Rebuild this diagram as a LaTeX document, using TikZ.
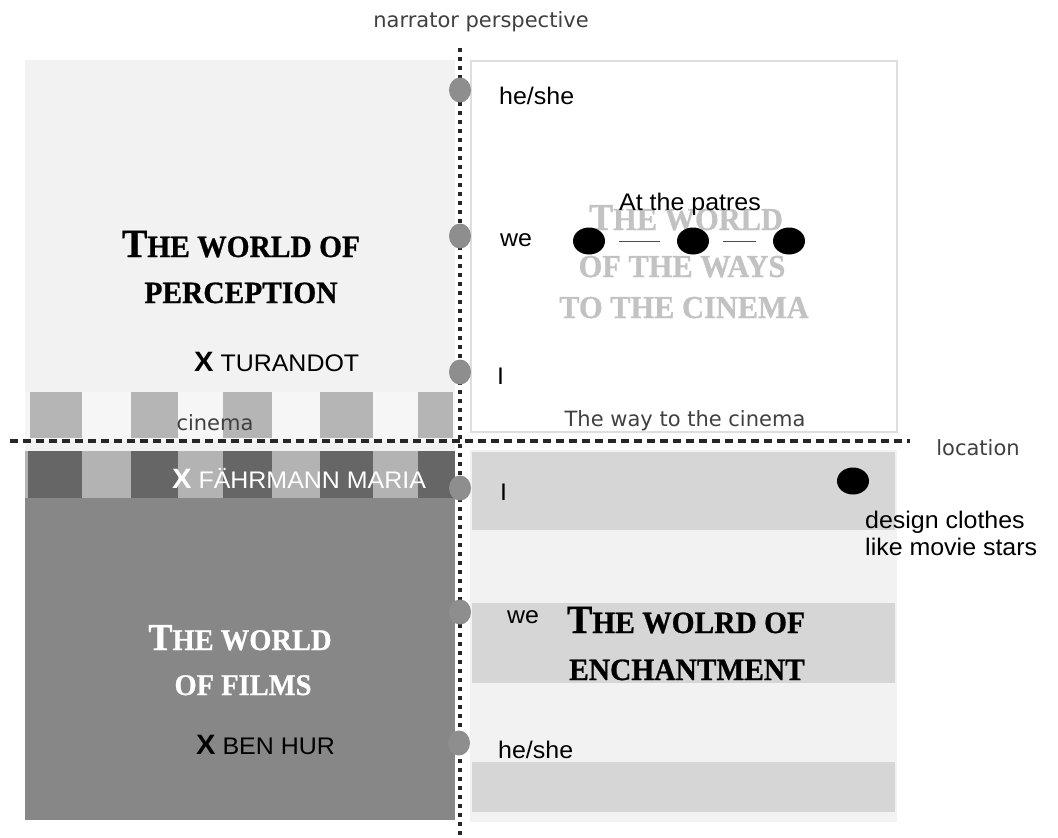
\documentclass[tikz,border=0pt]{standalone}
\usepackage{fontspec}
\setmainfont{Liberation Serif}
\newfontfamily\lab[FakeStretch=1.04]{Liberation Sans}
\newfontfamily\luc{DejaVu Sans}
\newfontfamily\ttl[FakeStretch=0.95,FakeBold=0.8]{Liberation Serif Bold}
\usetikzlibrary{shapes.geometric}
\definecolor{paneL}{HTML}{F2F2F2}
\definecolor{darkP}{HTML}{878787}
\definecolor{band}{HTML}{D6D6D6}
\definecolor{stripeA}{HTML}{B5B5B5}
\definecolor{stripeB}{HTML}{F6F6F6}
\definecolor{stripeC}{HTML}{666666}
\definecolor{stripeD}{HTML}{B3B3B3}
\definecolor{knob}{HTML}{8E8E8E}
\definecolor{ghost}{HTML}{C2C2C2}
\newcommand{\scapx}[4]{{\fontsize{#1}{#1}\selectfont #3}{\fontsize{#2}{#2}\selectfont #4}}
\newcommand{\bigX}{{\bfseries\fontsize{28}{28}\selectfont X}}
\tikzset{
  knobnode/.style={ellipse,fill=knob,minimum width=22pt,minimum height=25pt,inner sep=0pt},
  blackdot/.style={ellipse,fill=black,minimum width=32pt,minimum height=27pt,inner sep=0pt},
  lbl/.style={font=\lab\fontsize{24}{27}\selectfont,anchor=base west,inner sep=0pt},
  luclbl/.style={font=\luc\fontsize{21}{24}\selectfont,text=black!75,inner sep=0pt},
  ttlnode/.style={font=\ttl,anchor=base,inner sep=0pt},
  vaxis/.style={line width=3.4pt,dash pattern=on 4pt off 5pt,black!85},
  haxis/.style={line width=3.2pt,dash pattern=on 8pt off 5pt,black!85}
}
\begin{document}
\begin{tikzpicture}[x=1pt,y=-1pt]
\path[use as bounding box,fill=white] (0,0) rectangle (1058,838);
% panels
\fill[paneL] (25,60) rectangle (455,500);
\draw[black!13,line width=2pt,fill=white] (471,61) rectangle (897,432);
\fill[darkP] (25,498) rectangle (455,820);
\fill[paneL] (470,450) rectangle (897,822);
\fill[band] (472,452) rectangle (895,530);
\fill[band] (472,603) rectangle (895,683);
\fill[band] (472,762) rectangle (895,812);
% cinema stripes
\fill[stripeB] (25,392) rectangle (455,441);
\foreach \a/\b in {30/82,131/178,223/272,320/373,418/453}{
  \fill[stripeA] (\a,392) rectangle (\b,438);
}
\fill[stripeD] (25,451) rectangle (455,498);
\foreach \a/\b in {28/82,131/178,223/272,320/373,418/455}{
  \fill[stripeC] (\a,451) rectangle (\b,498);
}
% ghost title
\node[ttlnode,text=ghost] (g1) at (686,230) {\scapx{38}{32}{T}{HE WORLD}};
\node[ttlnode,text=ghost] (g2) at (682,277) {\fontsize{32}{32}\selectfont OF THE WAYS};
\node[ttlnode,text=ghost] (g3) at (684,318) {\fontsize{32}{32}\selectfont TO THE CINEMA};
% axes
\coordinate (vtop) at (460,48);
\coordinate (vbot) at (460,838);
\coordinate (hl) at (10,441);
\coordinate (hr) at (910,441);
\draw[vaxis] (vtop) -- (vbot);
\draw[haxis] (hl) -- (hr);
\node[luclbl] (np) at (481,22) {narrator perspective};
\node[luclbl] (loc) at (978,448) {location};
\node[luclbl] (cin) at (215,423) {cinema};
\node[luclbl] (way) at (685,421) {The way to the cinema};
% knobs
\node[knobnode] (k1) at (460,90) {};
\node[knobnode] (k2) at (460,236) {};
\node[knobnode] (k3) at (460,372) {};
\node[knobnode] (k4) at (460,488) {};
\node[knobnode] (k5) at (460,612) {};
\node[knobnode] (k6) at (459,743) {};
\node[lbl] (l1) at (499,104) {he/she};
\node[lbl] (l2) at (500,246) {we};
\node[lbl] (l3) at (497,384) {I};
\node[lbl] (l4) at (500,500) {I};
\node[lbl] (l5) at (507,623) {we};
\node[lbl] (l6) at (498,758) {he/she};
% titles
\node[ttlnode] (tp1) at (241,257) {\scapx{40}{31}{T}{HE WORLD OF}};
\node[ttlnode] (tp2) at (241,303) {\fontsize{31}{31}\selectfont PERCEPTION};
\node[ttlnode,text=white] (tf1) at (240,650) {\scapx{38}{30}{T}{HE WORLD}};
\node[ttlnode,text=white] (tf2) at (243,695) {\fontsize{30}{30}\selectfont OF FILMS};
\node[ttlnode] (te1) at (686,633) {\scapx{40}{31}{T}{HE WOLRD OF}};
\node[ttlnode] (te2) at (687,680) {\fontsize{31}{31}\selectfont ENCHANTMENT};
% films
\node[lbl] (tur) at (194,371) {\bigX\ TURANDOT};
\node[lbl,text=white] (fm) at (172,488) {\bigX\ FÄHRMANN MARIA};
\node[lbl] (bh) at (196,754) {\bigX\ BEN HUR};
% patres
\node[font=\lab\fontsize{24}{27}\selectfont,inner sep=0pt,anchor=base] (pat) at (690,210) {At the patres};
\node[blackdot] (d1) at (589,241) {};
\node[blackdot] (d2) at (693,241) {};
\node[blackdot] (d3) at (789,241) {};
\draw[black!70,line width=0.8pt,shorten <=14pt,shorten >=17pt] (d1) -- (d2);
\draw[black!70,line width=0.8pt,shorten <=14pt,shorten >=17pt] (d2) -- (d3);
\node[blackdot] (d4) at (853,481) {};
\node[lbl] (dc1) at (865,528) {design clothes};
\node[lbl] (dc2) at (865,555) {like movie stars};
\end{tikzpicture}
\end{document}
